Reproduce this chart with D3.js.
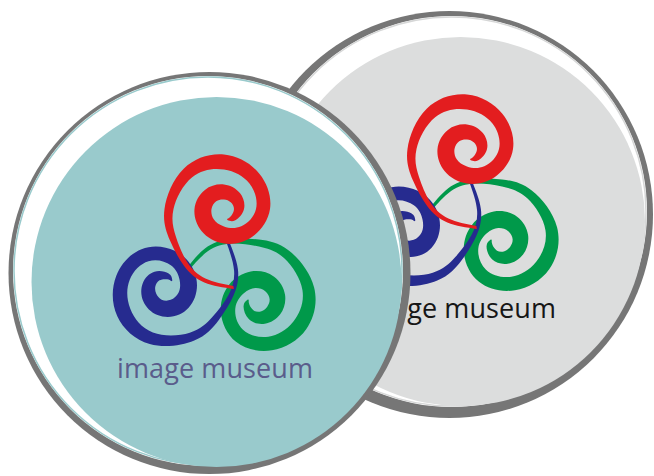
<!DOCTYPE html>
<html>
<head>
<meta charset="utf-8">
<script src="https://cdn.jsdelivr.net/npm/d3@7"></script>
<style>
  html, body { margin:0; padding:0; background:#fff; }
  svg { display:block; }
</style>
</head>
<body>
<script>
// centreline of one arm: [angle deg (screen), radius, width]
const spiralProfile = [
  [73, 11, 1], [45, 13, 6], [0, 15, 10], [-45, 16, 13], [-90, 17, 15],
  [-135, 19, 16], [-180, 21, 17], [-225, 23, 17], [-270, 26, 17],
  [-315, 32, 15], [-360, 39, 14], [-405, 43, 14], [-450, 47, 15],
  [-495, 51, 12], [-540, 55, 9], [-570, 59, 7], [-595, 67, 5],
  [-615, 74, 4], [-637, 79, 3]
];
// arms, drawn bottom to top
const armNames = ['green', 'blue', 'red'];
const armColors = ['#00994a', '#262b8f', '#e31d1f'];
const armCenters = [[44, 33], [-50.5, 20], [9, -60]];
const armTurns = [120, -120, 0];

// badges, back one first
const badgeNames = ['back', 'front'];
const rimCircles = [[449.5, 214.5, 203.5], [209.5, 273, 201]];
const whiteCircles = [[451.5, 211.5, 195.5], [208, 271, 195]];
const faceCircles = [[460.5, 221.5, 184.5], [216.5, 282, 185]];
const faceColors = ['#dcdddd', '#99cacc'];
const edgeColors = ['#d6d7d7', '#99cacc'];
const logoOrigins = [[458, 209], [215, 269]];
const labelText = ['image museum', 'image museum'];
const labelColors = ['#161616', '#5a5c8b'];

const w = 654, h = 476;
const toRad = d3.scaleLinear().domain([0, 360]).range([0, 2 * Math.PI]);

const svg = d3.select('body').append('svg')
  .attr('width', w)
  .attr('height', h);

badgeNames.forEach((name, i) => {
  const g = svg.append('g').attr('class', 'badge ' + name);
  const rim = rimCircles[i], wh = whiteCircles[i], face = faceCircles[i];

  g.append('circle')
    .attr('cx', rim[0]).attr('cy', rim[1]).attr('r', rim[2])
    .attr('fill', '#767676');
  g.append('circle')
    .attr('cx', wh[0]).attr('cy', wh[1]).attr('r', wh[2])
    .attr('fill', '#fff');
  g.append('circle')
    .attr('cx', wh[0]).attr('cy', wh[1]).attr('r', wh[2] - 1)
    .attr('fill', 'none')
    .attr('stroke', edgeColors[i])
    .attr('stroke-width', 1.5);
  g.append('circle')
    .attr('cx', face[0]).attr('cy', face[1]).attr('r', face[2])
    .attr('fill', faceColors[i]);

  const logo = g.append('g')
    .attr('transform', 'translate(' + logoOrigins[i][0] + ',' + logoOrigins[i][1] + ')');

  armNames.forEach((arm, j) => {
    const turn = armTurns[j];
    const area = d3.areaRadial()
      .angle(d => toRad(d[0] + 90 + turn))
      .innerRadius(d => d[1] - d[2] / 2)
      .outerRadius(d => d[1] + d[2] / 2)
      .curve(d3.curveNatural);
    logo.append('path')
      .attr('class', 'arm ' + arm)
      .attr('transform', 'translate(' + armCenters[j][0] + ',' + armCenters[j][1] + ')')
      .attr('d', area(spiralProfile))
      .attr('fill', armColors[j]);
  });

  logo.append('text')
    .attr('x', 0)
    .attr('y', 109)
    .attr('text-anchor', 'middle')
    .attr('textLength', 196)
    .attr('lengthAdjust', 'spacing')
    .style('font-family', '"Open Sans", sans-serif')
    .style('font-size', '27px')
    .style('fill', labelColors[i])
    .text(labelText[i]);
});
</script>
</body>
</html>
